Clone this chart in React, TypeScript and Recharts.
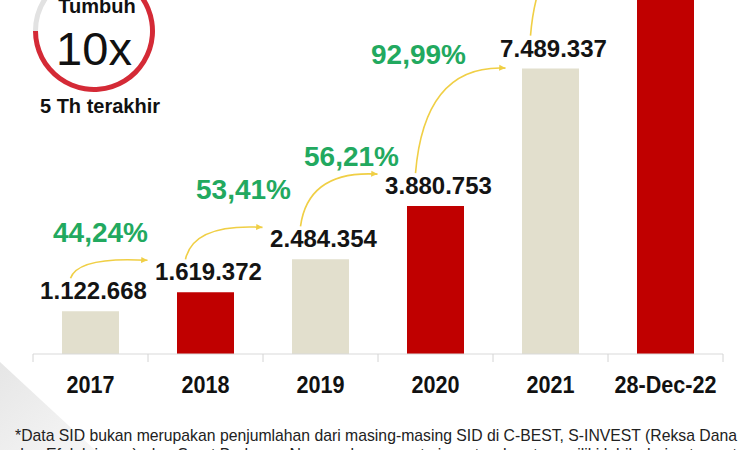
import React from "react";
import { BarChart, Bar, XAxis, YAxis, Cell, LabelList, PieChart, Pie } from "recharts";

const categories = ["2017", "2018", "2019", "2020", "2021", "28-Dec-22"];
const investors = [1122668, 1619372, 2484354, 3880753, 7489337, 10311152];
const barColors = ["#e2dfcd", "#c00000", "#e2dfcd", "#c00000", "#e2dfcd", "#c00000"];
const growthLabels = ["44,24%", "53,41%", "56,21%", "92,99%"];
// where each growth label sits, relative to the previous bar's top centre
const growthOffsets = [[10, -69], [38, -93], [31, -93], [-17, -142]];
const ringData = [
  { name: "tumbuh", value: 9 },
  { name: "sisa", value: 1 },
];
const ringColors = ["#d42a36", "#e2e2e2"];

const data = categories.map((c, i) => ({ year: c, sid: investors[i] }));

const W = 750;
const H = 450;
const M = { top: 0, right: 27, left: 33, bottom: 66 };
const BAND = (W - M.left - M.right) / categories.length;
const GREEN = "#22a95f";
const ARROW = "#f0cf45";
const SANS = "'Liberation Sans', Arial, sans-serif";

const fmt = (v: number) => String(v).replace(/\B(?=(\d{3})+(?!\d))/g, ".");

function XTick(p: any) {
  const { x, y, payload, index } = p;
  const half = payload && payload.offset ? payload.offset : BAND / 2;
  const last = index === categories.length - 1;
  return (
    <g>
      <line x1={x - half} x2={x - half} y1={y} y2={y + 8} stroke="#d4d4d4" />
      {last && <line x1={x + half} x2={x + half} y1={y} y2={y + 8} stroke="#d4d4d4" />}
      <text
        transform={`translate(${x},${y + 39}) scale(0.9,1)`}
        textAnchor="middle"
        fontFamily={SANS}
        fontWeight={700}
        fontSize={24}
        fill="#111"
      >
        {payload.value}
      </text>
    </g>
  );
}

function Annot(p: any) {
  const vb = p.viewBox || p;
  const i = p.index;
  if (vb == null || i == null || i >= investors.length - 1) return null;
  const cx = vb.x + vb.width / 2;
  const top = vb.y;
  const base = vb.y + vb.height;
  const perUnit = vb.height / investors[i];
  const labelLeft = cx + 3 - 53;
  const labelTop = top - 29;

  const nextTop = base - investors[i + 1] * perUnit;
  const nextLeft = cx + BAND + 3 - 53;
  const nextLabelTop = nextTop - 29;

  const sx = labelLeft + 30;
  const sy = labelTop - 4;
  let ey = nextLabelTop - 3;
  let ex = nextLeft - 8;
  if (ey < sy - 105) {
    ey = sy - 105;
    ex += 13;
  }
  const qx = sx + (ex - sx) * 0.1;
  const qy = ey - 4;
  const ang = Math.atan2(ey - qy, ex - qx);
  const a = 7;
  const p1 = [ex - a * Math.cos(ang - 0.45), ey - a * Math.sin(ang - 0.45)];
  const p2 = [ex - a * Math.cos(ang + 0.45), ey - a * Math.sin(ang + 0.45)];

  const g = i < growthLabels.length ? growthOffsets[i] : null;

  return (
    <g>
      <text x={cx + 3} y={top - 12} textAnchor="middle" fontFamily={SANS} fontWeight={700} fontSize={24} fill="#141414">
        {fmt(investors[i])}
      </text>
      <path d={`M${sx},${sy} Q${qx},${qy} ${ex},${ey}`} fill="none" stroke={ARROW} strokeWidth={1.6} />
      <polygon points={`${ex},${ey} ${p1[0]},${p1[1]} ${p2[0]},${p2[1]}`} fill={ARROW} />
      {g && (
        <text x={cx + g[0]} y={top + g[1]} textAnchor="middle" fontFamily={SANS} fontWeight={700} fontSize={28} fill={GREEN}>
          {growthLabels[i]}
        </text>
      )}
    </g>
  );
}

export default function App() {
  return (
    <div style={{ position: "absolute", left: 0, top: 0, width: W, height: H, overflow: "hidden", background: "#fff" }}>
      <svg width={W} height={H} style={{ position: "absolute", left: 0, top: 0 }}>
        <defs>
          <linearGradient id="corner" x1="0" y1="0" x2="1" y2="1">
            <stop offset="0" stopColor="#e6e6e6" />
            <stop offset="1" stopColor="#f6f6f6" />
          </linearGradient>
        </defs>
        <polygon points="0,362 95,450 0,450" fill="url(#corner)" />
      </svg>

      <div style={{ position: "absolute", left: 0, top: 0 }}>
        <BarChart width={W} height={H} data={data} margin={M} barSize={57}>
          <XAxis
            dataKey="year"
            height={30}
            axisLine={{ stroke: "#d9d9d9" }}
            tickLine={false}
            tickSize={0}
            tickMargin={0}
            interval={0}
            tick={<XTick />}
          />
          <YAxis hide domain={[0, 9290000]} allowDataOverflow />
          <Bar dataKey="sid" isAnimationActive={false}>
            {data.map((d, i) => (
              <Cell key={d.year} fill={barColors[i]} />
            ))}
            <LabelList dataKey="sid" content={(p: any) => <Annot {...p} />} />
          </Bar>
        </BarChart>
      </div>

      <div style={{ position: "absolute", left: 0, top: 0 }}>
        <PieChart width={200} height={130} margin={{ top: 0, right: 0, bottom: 0, left: 0 }}>
          <Pie
            data={ringData}
            dataKey="value"
            cx={94}
            cy={31}
            innerRadius={56}
            outerRadius={61}
            startAngle={180}
            endAngle={540}
            stroke="none"
            isAnimationActive={false}
          >
            {ringData.map((d, i) => (
              <Cell key={d.name} fill={ringColors[i]} />
            ))}
          </Pie>
        </PieChart>
      </div>

      <svg width={W} height={H} style={{ position: "absolute", left: 0, top: 0, pointerEvents: "none" }}>
        <text x={97} y={13} textAnchor="middle" fontFamily={SANS} fontWeight={700} fontSize={20} fill="#111">Tumbuh</text>
        <text x={94} y={65} textAnchor="middle" fontFamily={SANS} fontSize={47} fill="#111">10x</text>
        <text x={100} y={113} textAnchor="middle" fontFamily={SANS} fontWeight={700} fontSize={20} fill="#111">5 Th terakhir</text>
        <text x={15} y={441} fontFamily={SANS} fontSize={17} fill="#222" textLength={722} lengthAdjust="spacingAndGlyphs">
          *Data SID bukan merupakan penjumlahan dari masing-masing SID di C-BEST, S-INVEST (Reksa Dana
        </text>
        <text x={15} y={460} fontFamily={SANS} fontSize={17} fill="#222" textLength={722} lengthAdjust="spacingAndGlyphs">
          dan Efek lainnya), dan Surat Berharga Negara, karena satu investor dapat memiliki lebih dari satu aset
        </text>
      </svg>
    </div>
  );
}
